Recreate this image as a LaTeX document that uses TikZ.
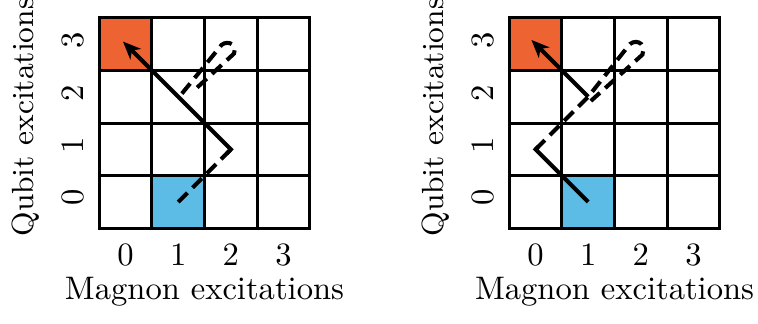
\documentclass[tikz,border=0pt]{standalone}
\usetikzlibrary{arrows.meta}
\definecolor{cellorange}{RGB}{238,99,50}
\definecolor{cellblue}{RGB}{93,188,230}
\tikzset{
  gridline/.style={line width=0.9pt, line cap=rect},
  walk/.style={line width=1.25pt, line join=miter},
  walkdash/.style={walk, dash pattern=on 4pt off 2.2pt},
  arrowwalk/.style={walk, -{Stealth[length=5.5pt,width=4.6pt,inset=1.6pt]}},
  ticklabel/.style={inner sep=0pt, font=\fontsize{10}{12}\selectfont},
  axislabel/.style={inner sep=0pt, font=\fontsize{10}{12}\selectfont},
  qlabel/.style={inner sep=0pt, font=\fontsize{9.4}{11}\selectfont},
}
\begin{document}
\begin{tikzpicture}[x=16.14pt,y=16.14pt]
\useasboundingbox (-1.888,-1.819) rectangle (12.523,4.340);
% ---------------- left panel
\begin{scope}
  \fill[cellorange] (0,3) rectangle (1,4);
  \fill[cellblue] (1,0) rectangle (2,1);
  \foreach \k in {0,...,4} {
    \draw[gridline] (\k,0) -- (\k,4);
    \draw[gridline] (0,\k) -- (4,\k);
  }
  \foreach \i in {0,...,3} \node[ticklabel] (lx\i) at (\i+0.5,-0.51) {\i};
  \foreach \i/\yy in {0/0.595,1/1.584,2/2.573,3/3.581}
    \node[ticklabel,rotate=90] (ly\i) at (-0.5,\yy) {\i};
  \node[axislabel, anchor=base] (lmag) at (2,-1.36) {Magnon excitations};
  \node[qlabel, rotate=90, anchor=base] (lqub) at (-1.26,2.116) {Qubit excitations};
  \coordinate (la) at (1.5,0.5);
  \coordinate (lb) at (2.5,1.5);
  \coordinate (lbb) at (2.42,1.42);
  \coordinate (lc) at (0.45,3.55);
  \draw[walkdash] (la) -- (lb);
  \draw[arrowwalk] (lbb) -- (lb) -- (lc);
  \coordinate (ls) at (1.57,2.56);
  \coordinate (ll) at (2.28,3.43);
  \coordinate (lr) at (2.56,3.32);
  \coordinate (le) at (1.8,2.62);
  \draw[walkdash] (ls) -- (ll) .. controls (2.37,3.6) and (2.64,3.53) .. (lr) -- (le);
\end{scope}
% ---------------- right panel
\begin{scope}[shift={(7.795,0)}]
  \fill[cellorange] (0,3) rectangle (1,4);
  \fill[cellblue] (1,0) rectangle (2,1);
  \foreach \k in {0,...,4} {
    \draw[gridline] (\k,0) -- (\k,4);
    \draw[gridline] (0,\k) -- (4,\k);
  }
  \foreach \i in {0,...,3} \node[ticklabel] (rx\i) at (\i+0.5,-0.51) {\i};
  \foreach \i/\yy in {0/0.595,1/1.584,2/2.573,3/3.581}
    \node[ticklabel,rotate=90] (ry\i) at (-0.5,\yy) {\i};
  \node[axislabel, anchor=base] (rmag) at (2,-1.36) {Magnon excitations};
  \node[qlabel, rotate=90, anchor=base] (rqub) at (-1.26,2.116) {Qubit excitations};
  \coordinate (ra) at (1.5,0.5);
  \coordinate (rb) at (0.5,1.5);
  \coordinate (rbb) at (0.56,1.56);
  \coordinate (rm) at (1.5,2.5);
  \coordinate (rl) at (2.25,3.45);
  \coordinate (rr) at (2.53,3.3);
  \coordinate (re) at (1.55,2.42);
  \coordinate (rc) at (0.42,3.58);
  \draw[walk] (ra) -- (rb) -- (rbb);
  \draw[walkdash] (rb) -- (rm) -- (rl) .. controls (2.35,3.62) and (2.62,3.55) .. (rr) -- (re);
  \draw[arrowwalk] (rm) -- (rc);
\end{scope}
\end{tikzpicture}
\end{document}
